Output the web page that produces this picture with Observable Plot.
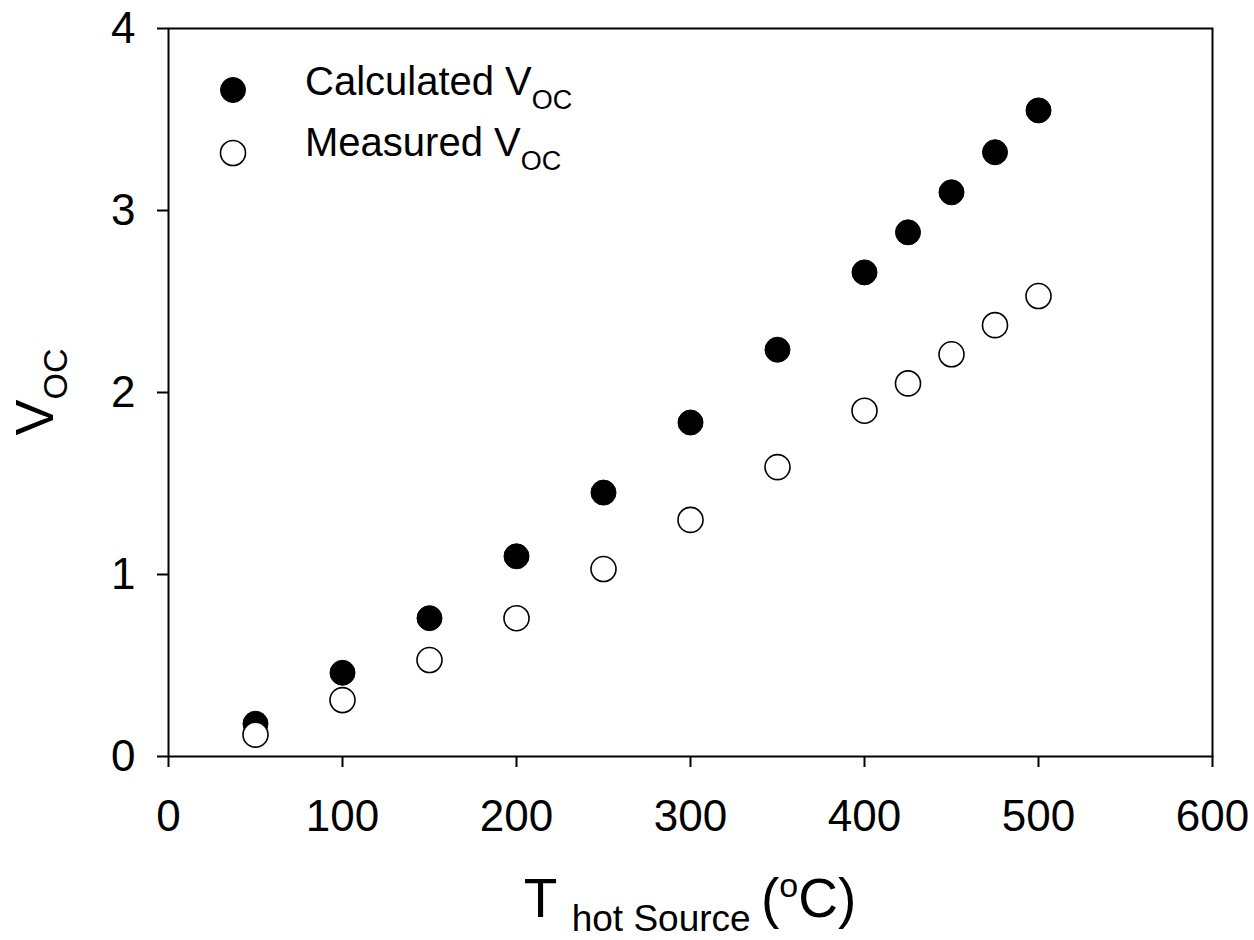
<!DOCTYPE html>
<html><head><meta charset="utf-8">
<script src="https://cdn.jsdelivr.net/npm/d3@7"></script>
<script src="https://cdn.jsdelivr.net/npm/@observablehq/plot@0.6"></script>
<style>body{margin:0;background:#fff}</style>
</head><body><div id="chart"></div>
<script>
const temps = [50, 100, 150, 200, 250, 300, 350, 400, 425, 450, 475, 500];
const calculated = [0.18, 0.46, 0.76, 1.10, 1.45, 1.835, 2.235, 2.66, 2.88, 3.10, 3.32, 3.55];
const measured = [0.12, 0.31, 0.53, 0.76, 1.03, 1.30, 1.59, 1.90, 2.05, 2.21, 2.37, 2.53];
const xTicks = [0, 100, 200, 300, 400, 500, 600];
const yTicks = [0, 1, 2, 3, 4];
const seriesNames = ["Calculated V", "Measured V"];

const calcData = temps.map((t, i) => ({t, v: calculated[i]}));
const measData = temps.map((t, i) => ({t, v: measured[i]}));

const FONT = "Liberation Sans, Arial, sans-serif";

const svg = Plot.plot({
  width: 1254, height: 940,
  marginLeft: 168, marginRight: 42, marginTop: 28, marginBottom: 184,
  style: {fontFamily: FONT, background: "#fff", color: "#000"},
  x: {domain: [0, 600]},
  y: {domain: [0, 4]},
  marks: [
    Plot.axisX({ticks: xTicks, tickSize: 11, tickPadding: 32, fontSize: 44, strokeWidth: 2, label: null, tickFormat: d => String(d)}),
    Plot.axisY({ticks: yTicks, tickSize: 11, tickPadding: 22, fontSize: 44, strokeWidth: 2, label: null, tickFormat: d => String(d)}),
    Plot.frame({stroke: "#000", strokeWidth: 2}),
    Plot.dot(calcData, {x: "t", y: "v", r: 12.5, fill: "#000", stroke: "#000", strokeWidth: 1}),
    Plot.dot(measData, {x: "t", y: "v", r: 12.5, fill: "#fff", stroke: "#000", strokeWidth: 1.6})
  ]
});
document.getElementById("chart").appendChild(svg);

const s = d3.select(svg);
// Legend
const leg = s.append("g").attr("font-family", FONT).attr("fill", "#000").attr("text-anchor", "start");
[{cy: 90, fill: "#000", ty: 95, name: seriesNames[0]}, {cy: 153, fill: "#fff", ty: 156, name: seriesNames[1]}].forEach(d => {
  leg.append("circle").attr("cx", 233).attr("cy", d.cy).attr("r", 12.5).attr("fill", d.fill).attr("stroke", "#000").attr("stroke-width", d.fill === "#fff" ? 1.6 : 1);
  const t = leg.append("text").attr("x", 305).attr("y", d.ty).attr("font-size", 40).attr("text-anchor", "start");
  t.append("tspan").text(d.name);
  t.append("tspan").attr("font-size", 27).attr("dy", 14).text("OC");
});

// X axis title
const xt = s.append("text").attr("x", 690).attr("y", 917).attr("text-anchor", "middle")
  .attr("font-family", FONT).attr("font-size", 55).attr("fill", "#000");
xt.append("tspan").text("T ");
xt.append("tspan").attr("font-size", 37).attr("dy", 14).text("hot Source ");
xt.append("tspan").attr("dy", -14).text("(");
xt.append("tspan").attr("font-size", 34).attr("dy", -20).text("o");
xt.append("tspan").attr("dy", 20).text("C)");

// Y axis title
const yt = s.append("text").attr("transform", "translate(53,392) rotate(-90)").attr("text-anchor", "middle")
  .attr("font-family", FONT).attr("font-size", 54).attr("fill", "#000");
yt.append("tspan").text("V");
yt.append("tspan").attr("font-size", 34).attr("dy", 14).text("OC");
</script>
</body></html>
